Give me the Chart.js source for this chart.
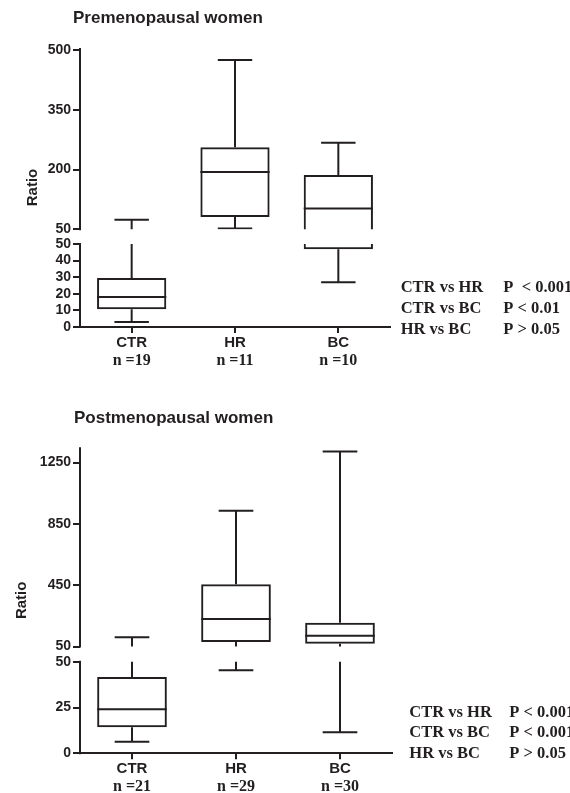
<!DOCTYPE html>
<html>
<head>
<meta charset="utf-8">
<script src="https://cdn.jsdelivr.net/npm/chart.js@4/dist/chart.umd.min.js"></script>
<style>
  html, body { margin: 0; padding: 0; background: #fff; }
  #page { position: relative; width: 570px; height: 793px; overflow: hidden; }
  canvas { position: absolute; left: 0; }
</style>
</head>
<body>
<div id="page">
  <canvas id="preChart" width="570" height="380" style="top:0"></canvas>
  <canvas id="postChart" width="570" height="413" style="top:380px"></canvas>
</div>
<script>
// box plot values
const categories = ['CTR', 'HR', 'BC'];

const preN = ['n =19', 'n =11', 'n =10'];
const preMin = [3, 52, 27];
const preQ1 = [10.7, 81, 46.8];
const preMedian = [18, 194, 102];
const preQ3 = [29.5, 256, 186];
const preMax = [74, 475, 267];
const preLowTicks = [0, 10, 20, 30, 40, 50];
const preHighTicks = [50, 200, 350, 500];

const postN = ['n =21', 'n =29', 'n =30'];
const postMin = [6.3, 45.4, 11.5];
const postQ1 = [14.2, 79, 68];
const postMedian = [24, 229, 120];
const postQ3 = [41.6, 456, 205];
const postMax = [110, 936, 1323];
const postLowTicks = [0, 25, 50];
const postHighTicks = [50, 450, 850, 1250];

const comparisons = ['CTR vs HR', 'CTR vs BC', 'HR vs BC'];
const prePValues = ['P  < 0.001', 'P < 0.01', 'P > 0.05'];
const postPValues = ['P < 0.001', 'P < 0.001', 'P > 0.05'];

const INK = '#231f20';
const SANS = '"Liberation Sans", Arial, sans-serif';
const SERIF = '"Liberation Serif", "Times New Roman", serif';

// linear axis with a break at splitValue: lower part and upper part have their own scale
class BrokenScale extends Chart.LinearScale {
  buildTicks() {
    const o = this.options;
    this.start = this.min;
    this.end = this.max;
    const low = o.lowTicks.map(v => ({ value: v, upper: false }));
    const high = o.highTicks.map(v => ({ value: v, upper: true }));
    return low.concat(high);
  }
  segments() {
    const o = this.options;
    const lowTop = this.bottom - o.lowHeight;
    return { upTop: this.top, upBottom: lowTop - o.gapHeight, lowTop: lowTop, lowBottom: this.bottom };
  }
  getPixelForValue(v) {
    const s = this.segments();
    const split = this.options.splitValue;
    if (v <= split) {
      return s.lowBottom - (v - this.min) / (split - this.min) * (s.lowBottom - s.lowTop);
    }
    return s.upBottom - (v - split) / (this.max - split) * (s.upBottom - s.upTop);
  }
  getValueForPixel(px) {
    const s = this.segments();
    const split = this.options.splitValue;
    if (px >= s.lowTop) {
      return this.min + (s.lowBottom - px) / (s.lowBottom - s.lowTop) * (split - this.min);
    }
    return split + (s.upBottom - px) / (s.upBottom - s.upTop) * (this.max - split);
  }
  getPixelForTick(i) {
    const t = this.ticks[i];
    if (!t) return null;
    if (t.upper && t.value === this.options.splitValue) return this.segments().upBottom;
    return this.getPixelForValue(t.value);
  }
}
BrokenScale.id = 'broken';
BrokenScale.defaults = Chart.LinearScale.defaults;
Chart.register(BrokenScale);

function clipSegments(chart) {
  const ctx = chart.ctx;
  const ca = chart.chartArea;
  const s = chart.scales.y.segments();
  ctx.beginPath();
  ctx.rect(ca.left - 20, ca.top - 10, ca.width + 40, s.upBottom - ca.top + 10);
  ctx.rect(ca.left - 20, s.lowTop, ca.width + 40, s.lowBottom - s.lowTop + 10);
  ctx.clip();
}

function boxPlugin(p) {
  return {
    id: 'boxWhiskers',
    beforeDatasetsDraw(chart) {
      chart.ctx.save();
      clipSegments(chart);
    },
    afterDatasetsDraw(chart) {
      const ctx = chart.ctx;
      const x = chart.scales.x;
      const y = chart.scales.y;
      const bars = chart.getDatasetMeta(0).data;
      const capHalf = x.width / categories.length / 6;
      ctx.strokeStyle = INK;
      ctx.lineWidth = 2;
      ctx.lineCap = 'butt';
      categories.forEach((c, i) => {
        const cx = x.getPixelForValue(i);
        const half = bars[i].width / 2;
        ctx.beginPath();
        // median
        ctx.moveTo(cx - half, y.getPixelForValue(p.median[i]));
        ctx.lineTo(cx + half, y.getPixelForValue(p.median[i]));
        // whiskers
        ctx.moveTo(cx, y.getPixelForValue(p.q3[i]));
        ctx.lineTo(cx, y.getPixelForValue(p.max[i]));
        ctx.moveTo(cx, y.getPixelForValue(p.q1[i]));
        ctx.lineTo(cx, y.getPixelForValue(p.min[i]));
        // caps
        ctx.moveTo(cx - capHalf, y.getPixelForValue(p.max[i]));
        ctx.lineTo(cx + capHalf, y.getPixelForValue(p.max[i]));
        ctx.moveTo(cx - capHalf, y.getPixelForValue(p.min[i]));
        ctx.lineTo(cx + capHalf, y.getPixelForValue(p.min[i]));
        ctx.stroke();
      });
      ctx.restore();

      // broken y axis line
      const ca = chart.chartArea;
      const s = y.segments();
      ctx.save();
      ctx.strokeStyle = INK;
      ctx.lineWidth = 2;
      ctx.beginPath();
      ctx.moveTo(ca.left, ca.top);
      ctx.lineTo(ca.left, s.upBottom + 1);
      ctx.moveTo(ca.left, s.lowTop - 1);
      ctx.lineTo(ca.left, s.lowBottom + 1);
      ctx.stroke();
      ctx.restore();
    },
    afterDraw(chart) {
      const ctx = chart.ctx;
      ctx.save();
      ctx.fillStyle = INK;
      ctx.textBaseline = 'alphabetic';
      ctx.textAlign = 'left';
      ctx.font = 'bold 17px ' + SANS;
      ctx.fillText(p.title, p.titleX, p.titleY);
      ctx.font = 'bold 16.5px ' + SERIF;
      comparisons.forEach((t, i) => {
        ctx.fillText(t, p.statX, p.statY[i]);
        ctx.fillText(p.pValues[i], p.pX, p.statY[i]);
      });
      ctx.restore();
    }
  };
}

function makePanel(canvasId, p) {
  return new Chart(document.getElementById(canvasId), {
    type: 'bar',
    data: {
      labels: categories,
      datasets: [{
        data: categories.map((c, i) => [p.q1[i], p.q3[i]]),
        backgroundColor: 'rgba(0,0,0,0)',
        borderColor: INK,
        borderWidth: 2,
        borderSkipped: false,
        barPercentage: 0.67,
        categoryPercentage: 1
      }]
    },
    options: {
      responsive: false,
      animation: false,
      events: [],
      layout: { padding: p.padding },
      plugins: {
        legend: { display: false },
        tooltip: { enabled: false },
        title: { display: false }
      },
      scales: {
        x: {
          offset: true,
          border: { display: true, width: 2, color: INK },
          grid: { display: true, drawOnChartArea: false, drawTicks: true, tickLength: 6, offset: false, lineWidth: 2, color: INK },
          ticks: { padding: 1, color: INK, maxRotation: 0, autoSkip: false, font: { family: SANS, size: 15, weight: 'bold', lineHeight: 1.2 } },
          afterFit: s => { s.height = 24; }
        },
        x2: {
          type: 'category',
          position: 'bottom',
          weight: 1,
          offset: true,
          labels: p.nLabels,
          border: { display: false },
          grid: { display: false, drawTicks: false, tickLength: 0 },
          ticks: { padding: 0, color: INK, maxRotation: 0, autoSkip: false, font: { family: SERIF, size: 16, weight: 'bold', lineHeight: 1.2 } },
          afterFit: s => { s.height = p.nAxisHeight; }
        },
        y: {
          type: 'broken',
          min: 0,
          max: p.yMax,
          splitValue: 50,
          lowHeight: p.lowHeight,
          gapHeight: p.gapHeight,
          lowTicks: p.lowTicks,
          highTicks: p.highTicks,
          border: { display: false },
          grid: { drawOnChartArea: false, drawTicks: true, tickLength: 7, lineWidth: 2, color: INK },
          ticks: { autoSkip: false, padding: 2, color: INK, font: { family: SANS, size: 14, weight: 'bold' }, callback: v => String(v) },
          title: { display: true, text: 'Ratio', color: INK, font: { family: SANS, size: 15, weight: 'bold' }, padding: { top: p.ratioPad, bottom: 0 } },
          afterFit: s => { s.width = 80; }
        }
      }
    },
    plugins: [boxPlugin(p)]
  });
}

makePanel('preChart', {
  title: 'Premenopausal women', titleX: 73, titleY: 23.3,
  min: preMin, q1: preQ1, median: preMedian, q3: preQ3, max: preMax,
  nLabels: preN, lowTicks: preLowTicks, highTicks: preHighTicks,
  yMax: 505, lowHeight: 83, gapHeight: 14.7,
  padding: { top: 48, right: 180, bottom: 3, left: 0 },
  nAxisHeight: 26, ratioPad: 23.5,
  pValues: prePValues, statX: 400.7, pX: 503.3, statY: [292.3, 313.3, 334]
});

makePanel('postChart', {
  title: 'Postmenopausal women', titleX: 74, titleY: 42.7,
  min: postMin, q1: postQ1, median: postMedian, q3: postQ3, max: postMax,
  nLabels: postN, lowTicks: postLowTicks, highTicks: postHighTicks,
  yMax: 1350, lowHeight: 91.6, gapHeight: 15.2,
  padding: { top: 67.3, right: 178, bottom: 0, left: 0 },
  nAxisHeight: 15.7, ratioPad: 13,
  pValues: postPValues, statX: 409.3, pX: 509.3, statY: [336.7, 357.3, 378.3]
});
</script>
</body>
</html>
